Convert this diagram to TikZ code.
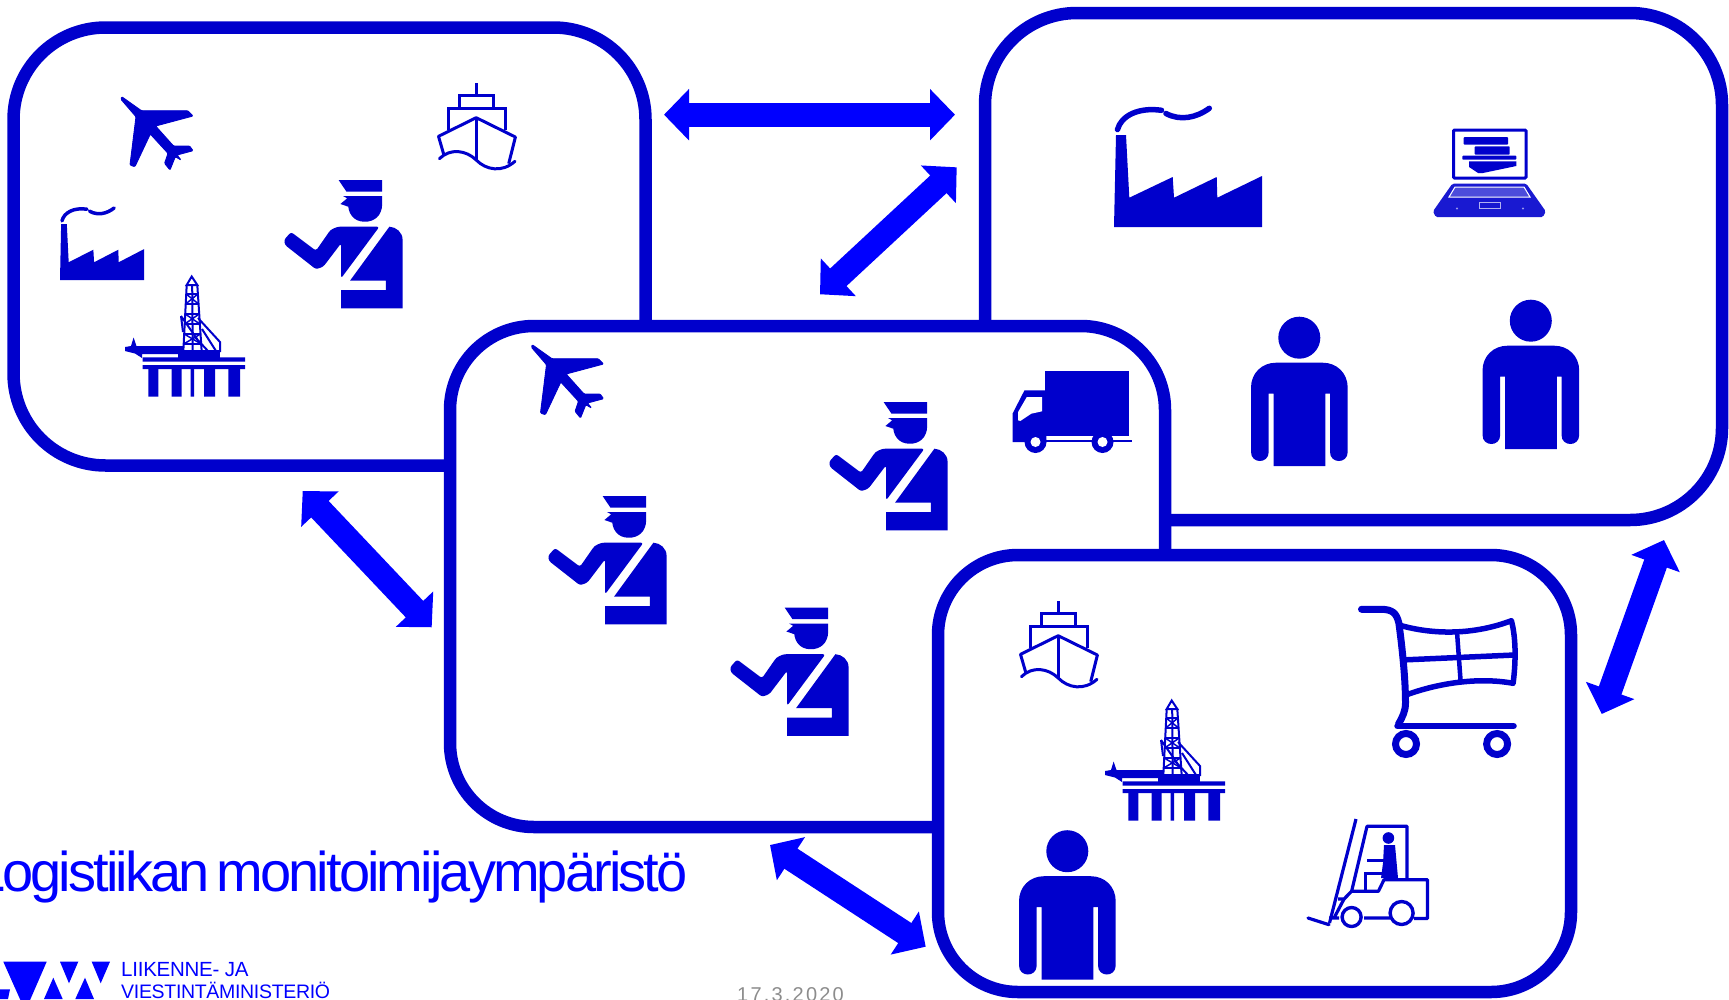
\documentclass[tikz,border=0pt]{standalone}
\usepackage{fontspec}
\usetikzlibrary{arrows.meta}
\setmainfont{Liberation Sans}
\newfontfamily\titlefont[LetterSpace=-5.15]{Liberation Sans}
\newfontfamily\logofonta[LetterSpace=-1.2]{Liberation Sans}
\newfontfamily\logofontb[LetterSpace=-1.6]{Liberation Sans}
\newfontfamily\datefont[LetterSpace=11]{Liberation Sans}
\definecolor{ic}{HTML}{0000CC}
\definecolor{ar}{HTML}{0000FF}
\definecolor{dategrey}{HTML}{8C8C8C}
\def\smokew{5.5pt}
\tikzset{
  panel/.style={draw=ic,line width=12.5pt,fill=white,inner sep=0pt,anchor=north west,outer sep=0pt},
  blockarrow/.style={ar,line width=24pt,{Triangle[length=25pt,width=50pt,sep=0pt]}-{Triangle[length=25pt,width=50pt,sep=0pt]}},
  iconofficer/.pic={
    \fill[ic] (54.6,0)--(98.2,0)--(98.2,11.7)--(62.5,11.7)--cycle;
    \fill[ic] (59,16)--(98.2,16)--(98.2,24) .. controls (98,36) and (90,42) .. (80.4,41.7) .. controls (70,41.7) and (65,34) .. (64.3,26.7)--(56.4,24)--(63.2,18.3)--cycle;
    \fill[ic,rounded corners=2.5pt] (0,60)--(7,52)--(32,70.7)--(46.4,50)--(53.6,46.7)--(95.4,46.7)--(57.1,98.3)--(57.1,63.3)--(39.3,86.7)--(32,89.3)--(1,65)--cycle;
    \fill[ic,rounded corners=0pt] (105.4,46.7) .. controls (112,47) and (118.6,52) .. (118.6,60)--(118.6,128.3)--(57.1,128.3)--(57.1,110)--(101.8,110)--(101.8,100.7)--(66,100.7)--cycle;
  },
  iconplane/.pic={
    \filldraw[ic,line width=.9pt,rounded corners=1pt] (0.7,1.7)--(20.4,15.7)--(66.8,15.7)--(72,21)--(34.6,31)--(52.5,51)--(68.6,51)--(72,55.7)--(56,60)--(60,65)--(54.3,61.7)--(49,75)--(43.6,68.3)--(47,58.3)--(29.3,39)--(13.9,71.7)--(9,70)--(15,21.7)--(0,4.3)--cycle;
  },
  iconship/.pic={
    \draw[ic,line width=3.2pt,line join=round] (38.2,0)--(38.2,12.3);
    \draw[ic,line width=3pt] (21.4,25.7)--(21.4,12.3)--(55,12.3)--(55,25.7);
    \draw[ic,line width=3pt] (10.7,47)--(10.7,25.7)--(67,25.7)--(67,47);
    \draw[ic,line width=3pt,line join=round] (6,72.3)--(0.5,53.3)--(38.2,34.7)--(77.4,54)--(70.7,80.7);
    \draw[ic,line width=3pt] (38.2,34.7)--(38.2,77);
    \draw[ic,line width=3pt,line cap=round] (1.4,75.7) .. controls (12,65) and (28,67) .. (38.2,77) .. controls (48,87) and (64,90) .. (77,78.3);
  },
  iconfactory/.pic={
    \fill[ic] (0,122)--(148,122)--(148,71)--(103.3,92.7)--(102.7,72)--(60,92.7)--(58.7,72)--(15.3,92.7)--(12,30)--(2,30)--cycle;
    \draw[ic,line width=\smokew,line cap=round] (3.5,24.5) .. controls (7,11) and (24,2) .. (47.5,5.3);
    \draw[ic,line width=\smokew,line cap=round] (52,8.5) .. controls (66,16) and (82,13) .. (95.3,3.3);
  },
  iconrig/.pic={
    \fill[ic] (24.3,90.7) rectangle (34.3,120.7) (47.7,90.7) rectangle (57.7,120.7) (66.7,90.7) rectangle (70,120.7) (80,90.7) rectangle (91,120.7) (104.3,90.7) rectangle (116,120.7);
    \fill[ic] (18.7,81.3) rectangle (121,85.7) (18.7,89) rectangle (121,93);
    \fill[ic] (54.3,73.5) rectangle (96,84);
    \fill[ic] (1,71)--(7,70)--(9.6,61.5)--(12.5,70)--(59,70)--(59,81)--(54,81)--(54,78)--(18,78)--(18,82)--(11,77.5)--(1,75)--cycle;
    \draw[ic,line width=2pt] (67.7,0.5)--(62.7,9)--(73.3,9)--cycle;
    \draw[ic,line width=2pt] (62.7,9)--(59.3,75.7) (73.3,9)--(77.7,75.7) (68.2,9)--(68.7,75);
    \foreach \y/\a/\b in {18/62.2/73.9,28/61.7/74.6,38/61.2/75.2,48/60.7/75.9,58/60.2/76.5,68/59.7/77.2}
      \draw[ic,line width=1.5pt] (\a,\y)--(\b,\y);
    \draw[ic,line width=1.5pt] (62.2,18)--(74.6,28) (61.2,38)--(75.9,48) (60.2,58)--(77.2,68) (73.9,18)--(61.7,28) (75.2,38)--(60.7,48) (76.5,58)--(59.7,68);
    \draw[ic,line width=2pt] (57,40)--(78,70) (57,40)--(59,56) (74,42)--(96,66)--(96,76) (78,53)--(92,75) (70,60)--(84,75);
  },
  iconlaptop/.pic={
    \draw[ic,line width=3pt,rounded corners=1pt] (20.5,1) rectangle (93,49);
    \fill[ic,rounded corners=0.8pt] (30.7,8) rectangle (75,15.7);
    \fill[ic,rounded corners=0.8pt] (41.7,17.3) rectangle (76.7,25.7);
    \fill[ic,rounded corners=0.8pt] (29.3,26.7)--(83.3,26.7)--(83.3,30.7)--(29.3,30.7)--cycle;
    \fill[ic] (36,32.3)--(83.3,32.3)--(83.3,37)--(50,44)--(45,44)--(36,38)--cycle;
    \fill[ic!90!white,rounded corners=1.5pt] (19.3,54.7)--(93.3,54.7)--(112.7,82.3)--(110,88)--(2.7,88)--(0,82.3)--cycle;
    \draw[white,line width=1pt,fill=ic!70!white] (22,58)--(91,58)--(97,68)--(16,68)--cycle;
    \draw[white!70!ic,line width=.8pt] (46,73)--(67,73)--(67,79)--(46,79)--cycle;
    \fill[white!60!ic] (24,79.5) circle (1.2) (90,79.5) circle (1.2);
  },
  iconperson/.pic={
    \fill[ic] (48.3,20.7) circle (21);
    \fill[ic] (0,70.7) .. controls (0,56) and (11,45.7) .. (25,45.7)--(71.7,45.7) .. controls (85.7,45.7) and (96.7,56) .. (96.7,70.7)--(96.7,135) .. controls (96.7,147) and (79,147) .. (79,135)--(79,76.7)--(74.3,76.7)--(74.3,149)--(22.7,149)--(22.7,76.7)--(17.7,76.7)--(17.7,135) .. controls (17.7,147) and (0,147) .. (0,135)--cycle;
  },
  icontruck/.pic={
    \fill[ic] (32.5,0) rectangle (116,65);
    \fill[ic] (0,71)--(0,42.7)--(12,19.3)--(32.5,19.3)--(34,71)--cycle;
    \fill[white] (14.3,26)--(29.5,26)--(29.5,40.3)--(18.7,42.7)--(7.8,50)--(5.6,49.3)--(5.6,41)--cycle;
    \fill[ic] (32,68.8) rectangle (119,71);
    \fill[ic] (23,71) circle (11) (90,71) circle (11);
    \fill[white] (23,71) circle (5) (90,71) circle (5);
  },
  iconcart/.pic={
    \draw[ic,line width=5.5pt,line join=round] (43,55)--(156,50);
    \draw[ic,line width=4.5pt] (98.6,28.3)--(102,75);
    \draw[ic,line width=5.5pt,line join=round] (40.4,20) .. controls (75,30) and (115,30) .. (152.9,15.7) .. controls (158,35) and (157,60) .. (154.6,78.3) .. controls (120,72) and (80,78) .. (47.5,90);
    \draw[ic,line width=7pt,line cap=round] (3,4.3)--(22,4.3) .. controls (34,4.3) and (38,8) .. (40.4,18.3) .. controls (44,45) and (47,75) .. (47,98) .. controls (47,106) and (44,112) .. (40,119);
    \draw[ic,line width=6.5pt,line cap=round] (39,121)--(155,121);
    \draw[ic,line width=7pt] (47.5,139) circle (10.5) (138.6,139) circle (10.5);
  },
  iconforklift/.pic={
    \draw[ic,line width=3.2pt] (49,0)--(22.5,104);
    \draw[ic,line width=3.2pt,line join=round] (31,80)--(37,80)--(44.6,72.3)--(60,7.3)--(100,7.3)--(100,60.7);
    \draw[ic,line width=3.2pt,line join=round] (44.6,72.3)--(71.4,72.3)--(77,60.7)--(120.4,60.7)--(120.4,99.5)--(107,99.5);
    \draw[ic,line width=3.2pt] (83,99)--(57,99) (32,99)--(22,99) (37,80)--(27,99);
    \draw[ic,line width=3.2pt,line cap=round] (1,99)--(22,105.7);
    \draw[ic,line width=3.4pt] (44.6,98) circle (9.5) (94.6,94) circle (11.5);
    \fill[ic] (81.4,19) circle (5.8);
    \fill[ic] (77,26)--(88,26)--(91,59)--(74,59)--(76,44)--cycle;
    \draw[ic,line width=3pt] (60,41)--(77,41) (58,73)--(58,54.5)--(78,54.5);
  }
}
\begin{document}
\begin{tikzpicture}[x=1pt,y=-1pt]
\useasboundingbox (0,0) rectangle (1729,999);
\fill[white] (0,0) rectangle (1729,999);

% upper left panel
\node[panel,rounded corners=92pt,minimum width=632pt,minimum height=438pt] (boxa) at (13.5,27.5) {};
\pic at (121,95) {iconplane};
\pic at (438,83) {iconship};
\def\smokew{3.5pt}
\pic[xscale=.568,yscale=.607] at (60,206) {iconfactory};
\def\smokew{5.5pt}
\pic at (124,276) {iconrig};
\pic at (284,180) {iconofficer};

% upper right panel
\node[panel,rounded corners=92pt,minimum width=737pt,minimum height=507pt] (boxb) at (985,13) {};
\pic at (1114,105) {iconfactory};
\pic at (1433,129) {iconlaptop};
\pic at (1251,317) {iconperson};
\pic at (1482.5,300) {iconperson};

% middle panel
\node[panel,rounded corners=84pt,minimum width=715pt,minimum height=501pt] (boxc) at (450,326) {};
\pic at (531.5,343) {iconplane};
\pic at (829,402) {iconofficer};
\pic at (548,496) {iconofficer};
\pic at (730,607.5) {iconofficer};
\pic at (1012.5,371) {icontruck};

% lower right panel
\node[panel,rounded corners=80pt,minimum width=633pt,minimum height=437pt] (boxd) at (938,555) {};
\pic at (1020,601) {iconship};
\pic at (1104,700) {iconrig};
\pic at (1358.5,605) {iconcart};
\pic at (1307,819) {iconforklift};
\pic at (1019,830.5) {iconperson};

% block arrows
\coordinate (a1) at (664,114.7);
\coordinate (a2) at (955,114.7);
\coordinate (b1) at (956.7,167.3);
\coordinate (b2) at (820,294.3);
\coordinate (c1) at (302.7,491);
\coordinate (c2) at (431.7,627.3);
\coordinate (d1) at (770,845);
\coordinate (d2) at (925.7,946.7);
\coordinate (e1) at (1664,540);
\coordinate (e2) at (1601.7,714);
\draw[blockarrow] (a1)--(a2);
\draw[blockarrow] (b1)--(b2);
\draw[blockarrow] (c1)--(c2);
\draw[blockarrow] (d1)--(d2);
\draw[blockarrow] (e1)--(e2);

% title and footer
\node[anchor=base west,inner sep=0pt,text=ar,font=\titlefont\fontsize{56}{60}\selectfont] (title) at (-26,891) {Logistiikan\kern-6pt\ monitoimijaympäristö};
\fill[ar] (3.3,961.7)--(46.7,961.7)--(25.3,1011)--cycle;
\fill[ar] (60,961.7)--(78.3,961.7)--(69,983.3)--cycle;
\fill[ar] (91.7,961.7)--(110,961.7)--(100.7,983.3)--cycle;
\fill[ar] (53.3,977.7)--(44,999)--(62.7,999)--cycle;
\fill[ar] (85,977.7)--(75.3,999)--(94,999)--cycle;
\fill[ar] (0,989.3)--(10,989.3)--(8,999)--(0,999)--cycle;
\node[anchor=base west,inner sep=0pt,text=ar,font=\logofonta\fontsize{20.5}{22}\selectfont] (lvma) at (121,976.7) {LIIKENNE- JA};
\node[anchor=base west,inner sep=0pt,text=ar,font=\logofontb\fontsize{19.5}{22}\selectfont] (lvmb) at (121,998.5) {VIESTINTÄMINISTERIÖ};
\node[anchor=base west,inner sep=0pt,text=dategrey,font=\datefont\fontsize{20}{24}\selectfont] (date) at (737,1001) {17.3.2020};
\end{tikzpicture}
\end{document}
